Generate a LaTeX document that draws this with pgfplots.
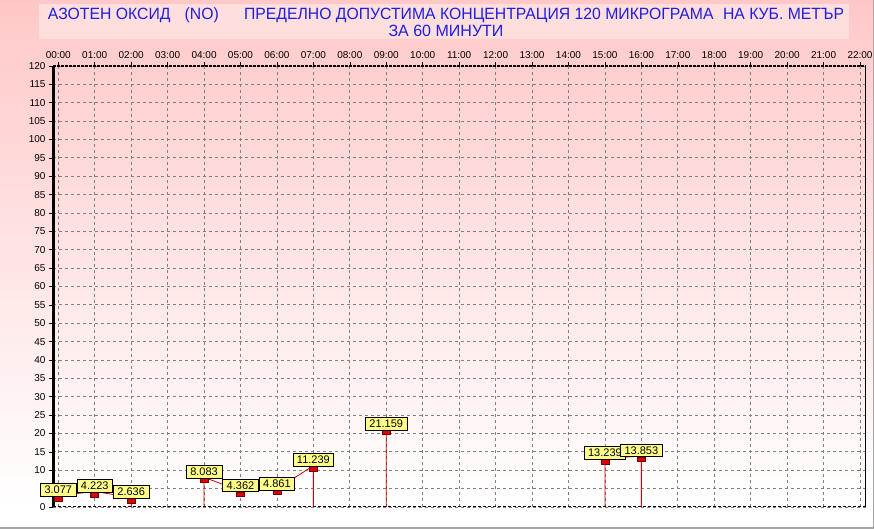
\documentclass[border=0pt]{standalone}
\usepackage{fontspec}
\setmainfont{Liberation Sans}
\usepackage{graphicx}
\usepackage{pgfplots}
\usepackage{pgfplotstable}
\pgfplotsset{compat=1.18}

\definecolor{bgpink}{RGB}{255,200,200}
\definecolor{boxpink}{RGB}{255,222,222}
\definecolor{titleblue}{RGB}{30,30,220}
\definecolor{lblyellow}{RGB}{255,255,140}
\definecolor{linered}{RGB}{200,0,0}
\definecolor{markred}{RGB}{225,0,0}
\definecolor{gridgray}{RGB}{128,128,128}

% small red slab under each reading
\pgfdeclareplotmark{slab}{%
  \pgfpathrectangle{\pgfpoint{-4pt}{-5.5pt}}{\pgfpoint{8pt}{4.5pt}}%
  \pgfusepathqfillstroke}

% hourly readings, NO, micrograms per cubic metre
\pgfplotstableread{
h v
0 3.077
1 4.223
2 2.636
4 8.083
5 4.362
6 4.861
7 11.239
9 21.159
15 13.239
16 13.853
}\readings

\begin{document}
\begin{tikzpicture}
\useasboundingbox (0pt,0pt) rectangle (874pt,529pt);
\fill[white] (0pt,0pt) rectangle (874pt,529pt);
\shade[top color=bgpink, bottom color=white] (0pt,22pt) rectangle (874pt,529pt);
\fill[boxpink] (39pt,490pt) rectangle (849pt,525pt);
\draw[gray!70, line width=1.5pt] (0pt,0.75pt) -- (873.25pt,0.75pt) -- (873.25pt,529pt);

\node[anchor=base, text=titleblue, font=\fontsize{16.3}{18}\selectfont, inner sep=0pt]
  at (446pt,509pt) {\resizebox{796pt}{\height}{АЗОТЕН ОКСИД\hspace{0.9em}(NO)\hspace{1.6em}ПРЕДЕЛНО ДОПУСТИМА КОНЦЕНТРАЦИЯ 120 МИКРОГРАМА\hspace{0.6em}НА КУБ. МЕТЪР}};
\node[anchor=base, text=titleblue, font=\fontsize{16.3}{18}\selectfont, inner sep=0pt]
  at (446pt,492pt) {\resizebox{115pt}{\height}{ЗА 60 МИНУТИ}};

\begin{axis}[
  at={(53pt,22pt)}, anchor=south west,
  scale only axis, width=812.7pt, height=441pt,
  xmin=-0.145, xmax=22.156, ymin=0, ymax=120,
  xtick={0,...,22},
  xticklabels={00:00,01:00,02:00,03:00,04:00,05:00,06:00,07:00,08:00,09:00,10:00,11:00,12:00,13:00,14:00,15:00,16:00,17:00,18:00,19:00,20:00,21:00,22:00},
  ytick={0,5,...,120},
  xtick pos=top, xticklabel pos=top,
  ytick pos=left,
  tick align=outside,
  major tick length=4pt,
  tick style={black, line width=0.6pt},
  ticklabel style={font=\fontsize{10}{12}\selectfont},
  /pgf/number format/assume math mode=true,
  grid=major,
  major grid style={gridgray, dash pattern=on 3pt off 3pt, line width=0.8pt},
  axis line style={draw=none},
  clip=false,
]
\addplot[linered, line width=0.8pt, unbounded coords=jump] coordinates {
  (0,3.077)(1,4.223)(2,2.636)(2,0)(3,nan)
  (4,0)(4,8.083)(5,4.362)(6,4.861)(7,11.239)(7,0)(8,nan)
  (9,0)(9,21.159)(10,nan)
  (15,0)(15,13.239)(16,13.853)(16,0)
};
\addplot[only marks, mark=slab,
  mark options={fill=markred, draw=red!45!black, line width=0.6pt},
  nodes near coords={\pgfmathprintnumber[assume math mode=true,fixed,fixed zerofill,precision=3]{\pgfplotspointmeta}},
  every node near coord/.style={anchor=south, yshift=-1pt, fill=lblyellow, draw=black,
    line width=0.6pt, inner xsep=4pt, inner ysep=2.5pt, text=black,
    font=\fontsize{11}{12}\selectfont},
] table[x=h, y=v] {\readings};

\draw[black, line width=3pt] (rel axis cs:0,0) -- (rel axis cs:0,1);
\draw[black, line width=1.5pt, dash pattern=on 3pt off 1pt] (rel axis cs:0,1) -- (rel axis cs:1,1);
\draw[black, line width=1pt, dash pattern=on 3pt off 2pt] (rel axis cs:0,0) -- (rel axis cs:1,0);
\draw[black, line width=1pt] (rel axis cs:1,0) -- (rel axis cs:1,1);
\end{axis}
\end{tikzpicture}
\end{document}
